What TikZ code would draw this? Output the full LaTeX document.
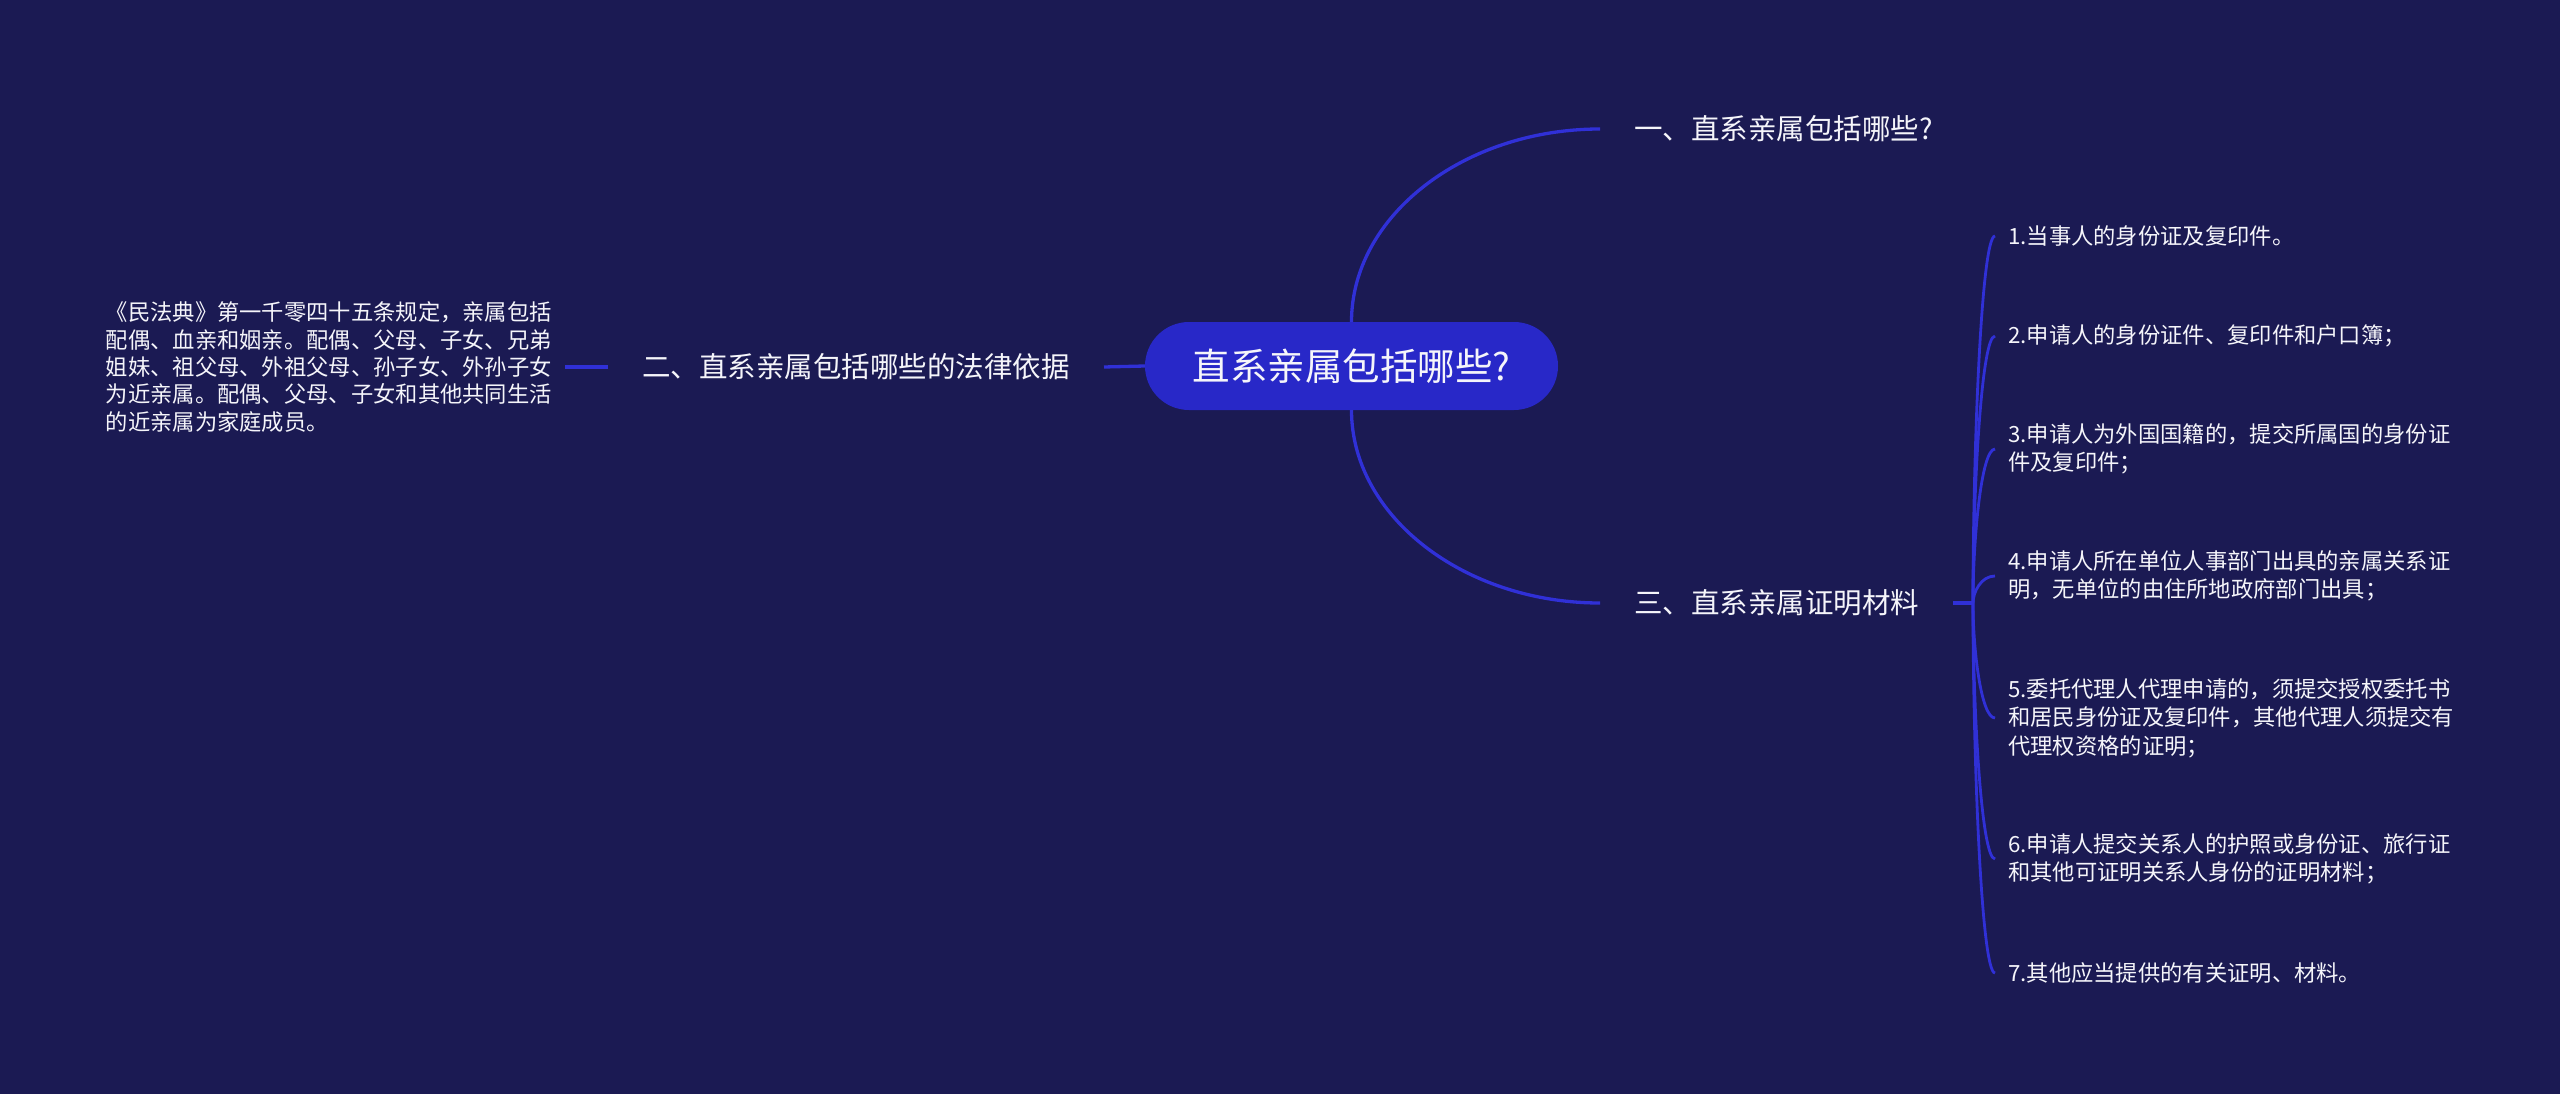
\documentclass[tikz,border=0pt]{standalone}
\usepackage{fontspec}
\setmainfont{Noto Sans CJK SC}
\usetikzlibrary{calc}
\definecolor{bgc}{RGB}{27,26,83}
\definecolor{pillc}{RGB}{40,40,200}
\definecolor{linec}{RGB}{48,48,215}
\definecolor{txtc}{RGB}{245,245,250}
\tikzset{
  rootbox/.style={fill=pillc, text=txtc, rounded corners=44pt, minimum width=413pt, minimum height=88pt, inner sep=0pt, font=\fontsize{37.5}{44}\selectfont},
  branchbox/.style={text=txtc, inner xsep=34pt, inner ysep=4pt, font=\fontsize{28.5}{34}\selectfont},
  leafbox/.style={text=txtc, inner xsep=13pt, inner ysep=2pt, align=left, font=\fontsize{22.3}{28.4}\selectfont},
  leftbox/.style={text=txtc, inner xsep=13pt, inner ysep=2pt, align=left, font=\fontsize{22.3}{27.3}\selectfont},
  mainline/.style={draw=linec, line width=3.3pt},
  subline/.style={draw=linec, line width=2.8pt}
}
\begin{document}
\begin{tikzpicture}[x=1pt,y=-1pt]
\useasboundingbox (0,0) rectangle (2560,1094);
\fill[bgc] (0,0) rectangle (2560,1094);

\node[rootbox] (root) at (1351.5,366) {直系亲属包括哪些?};

\node[branchbox, anchor=west] (b1) at (1600,129) {一、直系亲属包括哪些?};
\node[branchbox, anchor=east] (b2) at (1104,367) {二、直系亲属包括哪些的法律依据};
\node[branchbox, anchor=west] (b3) at (1600,603) {三、直系亲属证明材料};

\node[leftbox, anchor=east] (lt) at (565,367) {《民法典》第一千零四十五条规定，亲属包括\\配偶、血亲和姻亲。配偶、父母、子女、兄弟\\姐妹、祖父母、外祖父母、孙子女、外孙子女\\为近亲属。配偶、父母、子女和其他共同生活\\的近亲属为家庭成员。};

\coordinate (hub) at (1973,603);

\node[leafbox, anchor=west] (i1) at (1995,236) {1.当事人的身份证及复印件。};
\node[leafbox, anchor=west] (i2) at (1995,336) {2.申请人的身份证件、复印件和户口簿；};
\node[leafbox, anchor=west] (i3) at (1995,449) {3.申请人为外国国籍的，提交所属国的身份证\\件及复印件；};
\node[leafbox, anchor=west] (i4) at (1995,576) {4.申请人所在单位人事部门出具的亲属关系证\\明，无单位的由住所地政府部门出具；};
\node[leafbox, anchor=west] (i5) at (1995,718) {5.委托代理人代理申请的，须提交授权委托书\\和居民身份证及复印件，其他代理人须提交有\\代理权资格的证明；};
\node[leafbox, anchor=west] (i6) at (1995,859) {6.申请人提交关系人的护照或身份证、旅行证\\和其他可证明关系人身份的证明材料；};
\node[leafbox, anchor=west] (i7) at (1995,973) {7.其他应当提供的有关证明、材料。};

% main connectors
\draw[mainline] (root.north) .. controls +(0,-106) and +(-136,0) .. (b1.west);
\draw[mainline] (root.south) .. controls +(0,106) and +(-136,0) .. (b3.west);
\draw[mainline] (root.west) -- (b2.east);
\draw[mainline] (b2.west) -- (lt.east);
\draw[mainline] (b3.east) -- (hub);

% leaf connectors
\foreach \n in {i1,i2,i3,i4,i5,i6,i7}{
  \draw[subline] (hub) .. controls ($(hub)!0.4!(hub |- \n.west)$) and ($(\n.west)+(-14,0)$) .. (\n.west);
}
\end{tikzpicture}
\end{document}
